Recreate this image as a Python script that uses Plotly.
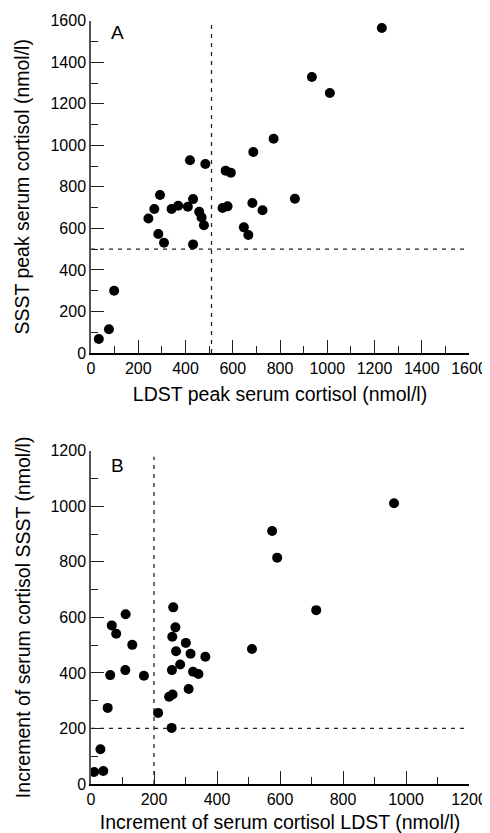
import plotly.graph_objects as go

# Panel A: peak serum cortisol (nmol/l)
a_ldst = [33, 76, 98, 243, 268, 285, 292, 309, 341, 369, 410, 419, 432, 432, 458, 468,
          478, 484, 557, 570, 578, 592, 647, 666, 683, 687, 726, 773, 863, 935, 1011, 1231]
a_ssst = [67, 114, 300, 648, 693, 573, 761, 531, 693, 709, 704, 928, 741, 523, 680, 653,
          615, 910, 698, 878, 706, 868, 605, 568, 722, 968, 687, 1032, 743, 1329, 1252, 1565]
a_cut_x = 510
a_cut_y = 500
a_vline_top = 1580
a_max = 1600

# Panel B: increment of serum cortisol (nmol/l)
b_ldst = [10, 39, 30, 53, 61, 66, 80, 110, 109, 131, 168, 213, 256, 261, 268, 258, 270,
          283, 257, 301, 316, 324, 341, 363, 310, 248, 259, 511, 575, 591, 715, 962]
b_ssst = [43, 47, 125, 274, 392, 571, 541, 611, 410, 501, 390, 256, 202, 636, 564, 530, 478,
          430, 410, 508, 469, 404, 396, 458, 342, 314, 322, 486, 911, 815, 626, 1011]
b_cut_x = 200
b_cut_y = 200
b_vline_top = 1178
b_max = 1200

# the page body has an 8px margin, so the figure is drawn 8px in from the corner
OFF = 8
W, H = 490 - OFF, 833 - OFF
FONT = "Liberation Sans, Arial, Helvetica, sans-serif"

def px_x(p):
    return (p - OFF) / W

def px_y(p):
    return 1 - (p - OFF) / H

fig = go.Figure()

dash_style = dict(color="#222", width=1.3, dash="4px,5px")

fig.add_trace(go.Scatter(x=[a_cut_x, a_cut_x], y=[0, a_vline_top], mode="lines",
                         line=dash_style, xaxis="x", yaxis="y", showlegend=False))
fig.add_trace(go.Scatter(x=[0, a_max], y=[a_cut_y, a_cut_y], mode="lines",
                         line=dash_style, xaxis="x", yaxis="y", showlegend=False))
fig.add_trace(go.Scatter(x=a_ldst, y=a_ssst, mode="markers",
                         marker=dict(color="black", size=10), xaxis="x", yaxis="y",
                         showlegend=False))

fig.add_trace(go.Scatter(x=[b_cut_x, b_cut_x], y=[0, b_vline_top], mode="lines",
                         line=dash_style, xaxis="x2", yaxis="y2", showlegend=False))
fig.add_trace(go.Scatter(x=[0, b_max], y=[b_cut_y, b_cut_y], mode="lines",
                         line=dash_style, xaxis="x2", yaxis="y2", showlegend=False))
fig.add_trace(go.Scatter(x=b_ldst, y=b_ssst, mode="markers",
                         marker=dict(color="black", size=10), xaxis="x2", yaxis="y2",
                         showlegend=False))

def axis(line_color, rng, title, standoff):
    return dict(
        range=rng, dtick=200, showline=True, linecolor=line_color, linewidth=1.5,
        ticks="inside", ticklen=13, tickwidth=1.3, tickcolor="#222",
        minor=dict(ticks="inside", ticklen=7, dtick=100, tickwidth=1.3, tickcolor="#222"),
        showgrid=False, zeroline=False, fixedrange=True, automargin=False,
        tickfont=dict(family=FONT, size=16, color="black"),
        title=dict(text=title, font=dict(family=FONT, size=19.5, color="black"), standoff=standoff),
    )

xa = axis("black", [0, a_max], "LDST peak serum cortisol (nmol/l)", 11)
xa["domain"] = [px_x(91), px_x(469)]
xa["anchor"] = "y"
ya = axis("#555", [0, a_max], "SSST peak serum cortisol (nmol/l)", 16)
ya["domain"] = [px_y(353), px_y(20.7)]
ya["anchor"] = "x"

xb = axis("black", [0, b_max], "Increment of serum cortisol LDST (nmol/l)", 12)
xb["domain"] = [px_x(91), px_x(469)]
xb["anchor"] = "y2"
yb = axis("#555", [0, b_max], "Increment of serum cortisol SSST (nmol/l)", 15)
yb["domain"] = [px_y(784), px_y(450.7)]
yb["anchor"] = "x2"

fig.update_layout(
    width=W, height=H,
    margin=dict(l=0, r=0, t=0, b=0),
    paper_bgcolor="white", plot_bgcolor="white",
    xaxis=xa, yaxis=ya, xaxis2=xb, yaxis2=yb,
    annotations=[
        dict(text="A", x=0.071, y=0.963, xref="x domain", yref="y domain",
             xanchor="center", yanchor="middle",
             showarrow=False, font=dict(family=FONT, size=19, color="black")),
        dict(text="B", x=0.069, y=0.957, xref="x2 domain", yref="y2 domain",
             xanchor="center", yanchor="middle",
             showarrow=False, font=dict(family=FONT, size=19, color="black")),
    ],
)

fig.write_html("out.html")
